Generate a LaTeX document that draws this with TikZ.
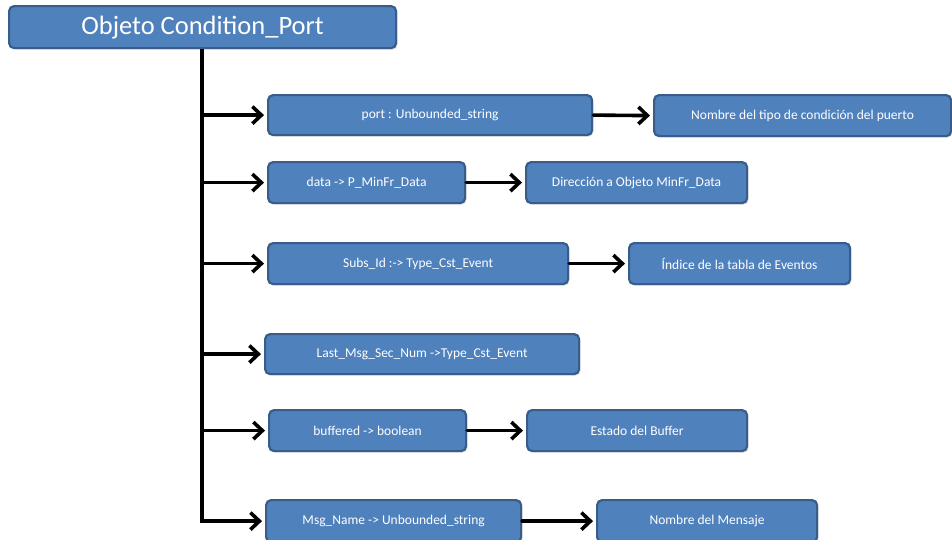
\documentclass[tikz,border=0pt]{standalone}
\usepackage{fontspec}
\setmainfont{Carlito}
\usetikzlibrary{arrows.meta,shadows,calc}
\definecolor{boxfill}{HTML}{4F81BD}
\definecolor{boxline}{HTML}{385D8A}
\tikzset{
  fieldbox/.style={draw=boxline, line width=2.2pt, fill=boxfill, rounded corners=5pt,
    text=white, font=\fontsize{13.5}{15}\selectfont, inner sep=0pt, anchor=north west,
    drop shadow={shadow xshift=1.5pt, shadow yshift=-1.5pt, opacity=0.25}},
  link/.style={line width=3.6pt, line cap=round, -{Straight Barb[length=9pt,width=17pt,line width=3.6pt]}}
}
\begin{document}
\begin{tikzpicture}[x=1pt,y=-1pt]
  \useasboundingbox (0,0) rectangle (952,539);
  % root object
  \node[fieldbox, minimum width=387pt, minimum height=42pt, font=\fontsize{26.5}{30}\selectfont] (root) at (8,5) {Objeto Condition\_Port};
  % fields
  \node[fieldbox, minimum width=324pt, minimum height=40pt] (f1) at (267,94) {port : Unbounded\_string};
  \node[fieldbox, minimum width=297pt, minimum height=41pt] (d1) at (653,94) {Nombre del tipo de condición del puerto};
  \node[fieldbox, minimum width=197pt, minimum height=41pt] (f2) at (267,161) {data -> P\_MinFr\_Data};
  \node[fieldbox, minimum width=221pt, minimum height=41pt] (d2) at (525,161) {Dirección a Objeto MinFr\_Data};
  \node[fieldbox, minimum width=300pt, minimum height=41pt] (f3) at (267,242) {Subs\_Id :-> Type\_Cst\_Event};
  \node[fieldbox, minimum width=221pt, minimum height=41pt] (d3) at (628,242) {Índice de la tabla de Eventos};
  \node[fieldbox, minimum width=314pt, minimum height=40pt] (f4) at (264,333) {Last\_Msg\_Sec\_Num ->Type\_Cst\_Event};
  \node[fieldbox, minimum width=197pt, minimum height=41pt] (f5) at (268,409) {buffered -> boolean};
  \node[fieldbox, minimum width=220pt, minimum height=41pt] (d5) at (526,409) {Estado del Buffer};
  \node[fieldbox, minimum width=255pt, minimum height=42pt] (f6) at (265,499) {Msg\_Name -> Unbounded\_string};
  \node[fieldbox, minimum width=220pt, minimum height=42pt] (d6) at (596,499) {Nombre del Mensaje};
  % trunk from the root object
  \coordinate (trunk) at (202,0);
  \draw[line width=3.6pt] (root.south -| trunk) -- (trunk |- f6.west) -- ++(2,0);
  \foreach \f in {f1,f2,f3,f4,f5,f6}
    \draw[link] (trunk |- \f.west) -- ($(\f.west)+(-3,0)$);
  % field descriptions
  \foreach \a/\b in {f1/d1,f2/d2,f3/d3,f5/d5,f6/d6}
    \draw[link] (\a.east) -- ($(\b.west)+(-3,0)$);
\end{tikzpicture}
\end{document}
